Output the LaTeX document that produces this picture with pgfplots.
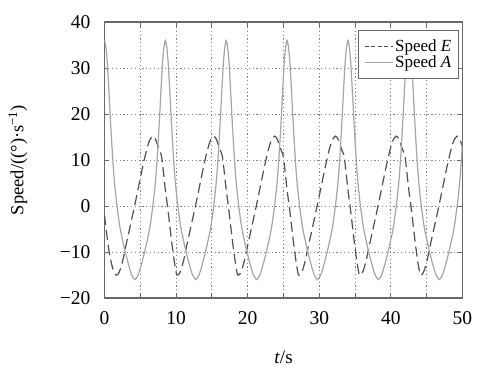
\documentclass[border=0pt]{standalone}
\usepackage{fontspec}
\setmainfont{Liberation Serif}
\usepackage{pgfplots}
\pgfplotsset{compat=1.18}
\definecolor{axgray}{RGB}{105,105,105}
\definecolor{gridgray}{RGB}{130,130,130}
\definecolor{colA}{RGB}{165,165,165}
\definecolor{colE}{RGB}{80,80,80}
\begin{document}
\begin{tikzpicture}
\begin{axis}[
  scale only axis, width=358bp, height=276bp,
  xmin=0, xmax=50, ymin=-20, ymax=40,
  xtick={0,5,...,50}, xticklabels={0,,10,,20,,30,,40,,50},
  ytick={-20,-10,...,40}, yticklabels={−20,−10,0,10,20,30,40},
  grid=major, grid style={gridgray, line width=1bp, dash pattern=on 1.2bp off 2.6bp},
  axis line style={axgray, line width=1.4bp},
  tick style={axgray, line width=1bp}, major tick length=5bp, tick align=inside,
  xticklabel style={font=\fontsize{19.5bp}{22bp}\selectfont, anchor=center, inner sep=0pt, yshift=-20bp},
  yticklabel style={font=\fontsize{19.5bp}{22bp}\selectfont, anchor=east, inner sep=0pt, xshift=-14bp},
  xlabel={\textit{t}/s},
  ylabel={Speed/((°)·s\textsuperscript{−1})},
  xlabel style={font=\fontsize{19bp}{22bp}\selectfont, at={(axis description cs:0.5,-0.2138)}, anchor=center},
  ylabel style={font=\fontsize{18.5bp}{22bp}\selectfont, at={(axis description cs:-0.2416,0.5)}, anchor=center},
  legend style={at={(axis description cs:0.990,0.971)}, anchor=north east, draw=axgray, line width=1bp,
    font=\fontsize{17bp}{19bp}\selectfont, inner xsep=5bp, inner ysep=7bp, row sep=-1bp, fill=white},
  legend cell align=left,
  legend image code/.code={\draw[#1] (0bp,0bp) -- (28bp,0bp);},
]
\addplot[colE, line width=1.2bp, smooth, tension=0.4, dash pattern=on 10bp off 5bp,
  legend image post style={dash pattern=on 4bp off 2.5bp}] coordinates {
(0,-2) (0.3,-6) (0.6,-9.5) (0.9,-12) (1.2,-13.8) (1.6,-15) (1.9,-14.8) (2.2,-13.8) (2.6,-11.5) (3.0,-8.5) (3.5,-5) (4.2,0) (4.8,4.5) (5.4,9) (5.9,12.3) (6.3,14.3) (6.75,15.2) (7.1,14.6) (7.4,13.3) (7.7,12) (8.0,10.5)
(8.5,3.5) (8.8,0) (9.1,-4) (9.4,-8) (9.7,-11.5) (9.9,-13.5) (10.1,-15) (10.4,-14.8) (10.7,-13.8) (11.1,-11.5) (11.5,-8.5) (12.0,-5) (12.7,0) (13.3,4.5) (13.9,9) (14.4,12.3) (14.8,14.3) (15.25,15.2) (15.6,14.6) (15.9,13.3) (16.2,12) (16.5,10.5)
(17,3.5) (17.3,0) (17.6,-4) (17.9,-8) (18.2,-11.5) (18.4,-13.5) (18.6,-15) (18.9,-14.8) (19.2,-13.8) (19.6,-11.5) (20.0,-8.5) (20.5,-5) (21.2,0) (21.8,4.5) (22.4,9) (22.9,12.3) (23.3,14.3) (23.75,15.2) (24.1,14.6) (24.4,13.3) (24.7,12) (25.0,10.5)
(25.5,3.5) (25.8,0) (26.1,-4) (26.4,-8) (26.7,-11.5) (26.9,-13.5) (27.1,-15) (27.4,-14.8) (27.7,-13.8) (28.1,-11.5) (28.5,-8.5) (29.0,-5) (29.7,0) (30.3,4.5) (30.9,9) (31.4,12.3) (31.8,14.3) (32.25,15.2) (32.6,14.6) (32.9,13.3) (33.2,12) (33.5,10.5)
(34,3.5) (34.3,0) (34.6,-4) (34.9,-8) (35.2,-11.5) (35.4,-13.5) (35.6,-15) (35.9,-14.8) (36.2,-13.8) (36.6,-11.5) (37.0,-8.5) (37.5,-5) (38.2,0) (38.8,4.5) (39.4,9) (39.9,12.3) (40.3,14.3) (40.75,15.2) (41.1,14.6) (41.4,13.3) (41.7,12) (42.0,10.5)
(42.5,3.5) (42.8,0) (43.1,-4) (43.4,-8) (43.7,-11.5) (43.9,-13.5) (44.1,-15) (44.4,-14.8) (44.7,-13.8) (45.1,-11.5) (45.5,-8.5) (46.0,-5) (46.7,0) (47.3,4.5) (47.9,9) (48.4,12.3) (48.8,14.3) (49.25,15.2) (49.6,14.6) (49.9,13.3) (50.0,12.9)
};
\addlegendentry{Speed \textit{E}}
\addplot[colA, line width=1.2bp, smooth, tension=0.4] coordinates {
(0,36) (0.2,34.5) (0.4,31) (0.6,25.5) (0.8,19.5) (1.0,14) (1.2,9) (1.4,5) (1.75,0) (2.2,-5) (2.9,-10) (3.4,-13) (3.8,-15) (4.25,-16)
(4.7,-15) (5.1,-13) (5.6,-10) (6.3,-5) (6.75,0) (7.1,5) (7.3,9) (7.5,14) (7.7,19.5) (7.9,25.5) (8.1,31) (8.3,34.5) (8.5,36) (8.7,34.5) (8.9,31) (9.1,25.5) (9.3,19.5) (9.5,14) (9.7,9) (9.9,5) (10.25,0) (10.7,-5) (11.4,-10) (11.9,-13) (12.3,-15) (12.75,-16)
(13.2,-15) (13.6,-13) (14.1,-10) (14.8,-5) (15.25,0) (15.6,5) (15.8,9) (16.0,14) (16.2,19.5) (16.4,25.5) (16.6,31) (16.8,34.5) (17,36) (17.2,34.5) (17.4,31) (17.6,25.5) (17.8,19.5) (18.0,14) (18.2,9) (18.4,5) (18.75,0) (19.2,-5) (19.9,-10) (20.4,-13) (20.8,-15) (21.25,-16)
(21.7,-15) (22.1,-13) (22.6,-10) (23.3,-5) (23.75,0) (24.1,5) (24.3,9) (24.5,14) (24.7,19.5) (24.9,25.5) (25.1,31) (25.3,34.5) (25.5,36) (25.7,34.5) (25.9,31) (26.1,25.5) (26.3,19.5) (26.5,14) (26.7,9) (26.9,5) (27.25,0) (27.7,-5) (28.4,-10) (28.9,-13) (29.3,-15) (29.75,-16)
(30.2,-15) (30.6,-13) (31.1,-10) (31.8,-5) (32.25,0) (32.6,5) (32.8,9) (33.0,14) (33.2,19.5) (33.4,25.5) (33.6,31) (33.8,34.5) (34,36) (34.2,34.5) (34.4,31) (34.6,25.5) (34.8,19.5) (35.0,14) (35.2,9) (35.4,5) (35.75,0) (36.2,-5) (36.9,-10) (37.4,-13) (37.8,-15) (38.25,-16)
(38.7,-15) (39.1,-13) (39.6,-10) (40.3,-5) (40.75,0) (41.1,5) (41.3,9) (41.5,14) (41.7,19.5) (41.9,25.5) (42.1,31) (42.3,34.5) (42.5,36) (42.7,34.5) (42.9,31) (43.1,25.5) (43.3,19.5) (43.5,14) (43.7,9) (43.9,5) (44.25,0) (44.7,-5) (45.4,-10) (45.9,-13) (46.3,-15) (46.75,-16)
(47.2,-15) (47.6,-13) (48.1,-10) (48.8,-5) (49.25,0) (49.6,5) (49.8,9) (50.0,14)
};
\addlegendentry{Speed \textit{A}}
\end{axis}
\pgfresetboundingbox
\path (current axis.south west) ++(-104.5bp,-71bp) rectangle ++(478bp,369bp);
\end{tikzpicture}
\end{document}
